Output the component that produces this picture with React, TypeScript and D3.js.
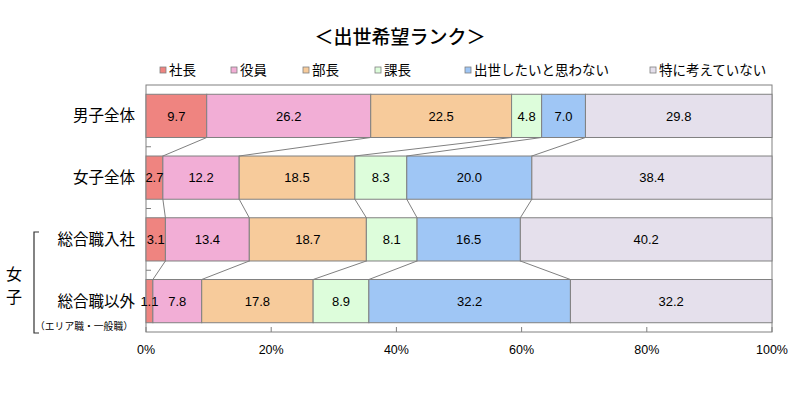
import React from "react";
import * as d3 from "d3";

const categories = ["男子全体", "女子全体", "総合職入社", "総合職以外"];
const seriesNames = ["社長", "役員", "部長", "課長", "出世したいと思わない", "特に考えていない"];
const shachou = [9.7, 2.7, 3.1, 1.1];
const yakuin = [26.2, 12.2, 13.4, 7.8];
const buchou = [22.5, 18.5, 18.7, 17.8];
const kachou = [4.8, 8.3, 8.1, 8.9];
const omowanai = [7.0, 20.0, 16.5, 32.2];
const kangaeteinai = [29.8, 38.4, 40.2, 32.2];
const seriesValues = [shachou, yakuin, buchou, kachou, omowanai, kangaeteinai];
const colors = ["#EF8480", "#F2AED6", "#F7CB9B", "#DDFDDB", "#9FC6F5", "#E5E0EC"];
const xTicks = [0, 0.2, 0.4, 0.6, 0.8, 1];
const title = "＜出世希望ランク＞";
const legendX = [160, 231, 303, 375, 465, 650];

const W = 800, H = 420;
const M = { left: 146, right: 772, top: 85, bottom: 332 };
const FONT = "'Noto Sans CJK JP', 'Noto Sans', sans-serif";
const NUMFONT = "'Liberation Sans', Arial, sans-serif";

export default function App() {
  const rows = categories.map((c, i) => {
    const o: any = { cat: c };
    seriesNames.forEach((s, j) => (o[s] = seriesValues[j][i]));
    return o;
  });
  const stack = d3.stack<any>().keys(seriesNames).offset(d3.stackOffsetExpand);
  const layers = stack(rows);

  const x = d3.scaleLinear().domain([0, 1]).range([M.left, M.right]);
  const y = d3.scaleBand<string>().domain(categories).range([M.top, M.bottom]).paddingInner(0.3).paddingOuter(0.15);
  const bw = y.bandwidth();
  const step = y.step();
  const grey = "#808080";

  const connectors: { x1: number; y1: number; x2: number; y2: number }[] = [];
  for (let j = 0; j < layers.length - 1; j++) {
    for (let i = 0; i < categories.length - 1; i++) {
      const a = layers[j][i][1];
      const b = layers[j][i + 1][1];
      connectors.push({
        x1: x(a), y1: (y(categories[i]) as number) + bw,
        x2: x(b), y2: y(categories[i + 1]) as number,
      });
    }
  }

  return (
    <div style={{ position: "fixed", left: 0, top: 0, width: W, height: H, background: "#fff" }}>
      <svg width={W} height={H} style={{ display: "block", fontFamily: FONT }}>
        <rect width={W} height={H} fill="#fff" />
        <text x={400} y={44} textAnchor="middle" fontSize={19} fill="#000" fontWeight={500}>{title}</text>
        {seriesNames.map((s, j) => (
          <g key={s}>
            <rect x={legendX[j]} y={67} width={6} height={6} fill={colors[j]} stroke={grey} strokeWidth={0.8} />
            <text x={legendX[j] + 9} y={75} fontSize={13.5} fill="#000">{s}</text>
          </g>
        ))}
        <rect x={M.left} y={M.top} width={M.right - M.left} height={M.bottom - M.top} fill="none" stroke={grey} strokeWidth={1} />
        {layers.map((layer, j) => (
          <g key={j}>
            {layer.map((d, i) => (
              <rect key={i} x={x(d[0])} y={y(categories[i])} width={x(d[1]) - x(d[0])} height={bw}
                fill={colors[j]} stroke={grey} strokeWidth={1} />
            ))}
          </g>
        ))}
        {connectors.map((c, k) => (
          <line key={k} x1={c.x1} y1={c.y1} x2={c.x2} y2={c.y2} stroke={grey} strokeWidth={1} />
        ))}
        {layers.map((layer, j) => (
          <g key={"t" + j}>
            {layer.map((d, i) => (
              <text key={i} x={(x(d[0]) + x(d[1])) / 2} y={(y(categories[i]) as number) + bw / 2 + 4.8}
                textAnchor="middle" fontSize={13} fill="#000" fontFamily={NUMFONT}>
                {seriesValues[j][i].toFixed(1)}
              </text>
            ))}
          </g>
        ))}
        {categories.slice(0, -1).map((c, i) => (
          <line key={c} x1={M.left} x2={M.left + 5} y1={M.top + step * (i + 1)} y2={M.top + step * (i + 1)}
            stroke={grey} strokeWidth={1} />
        ))}
        {xTicks.map((t) => (
          <g key={t}>
            <line x1={x(t)} x2={x(t)} y1={M.bottom} y2={M.bottom - 5} stroke={grey} strokeWidth={1} />
            <text x={x(t)} y={354} textAnchor="middle" fontSize={12.5} fill="#000" fontFamily={NUMFONT}>
              {d3.format(".0%")(t)}
            </text>
          </g>
        ))}
        {categories.map((c, i) => (
          <text key={c} x={135} y={(y(c) as number) + bw / 2 + 5.5} textAnchor="end" fontSize={15.5} fill="#000">{c}</text>
        ))}
        <text x={133} y={330} textAnchor="end" fontSize={9.8} fill="#000">（エリア職・一般職）</text>
        <path d="M39,232 H34 V333 H39" fill="none" stroke="#333" strokeWidth={1.2} />
        <text x={14} y={280} textAnchor="middle" fontSize={16} fill="#000">女</text>
        <text x={14} y={303} textAnchor="middle" fontSize={16} fill="#000">子</text>
      </svg>
    </div>
  );
}
